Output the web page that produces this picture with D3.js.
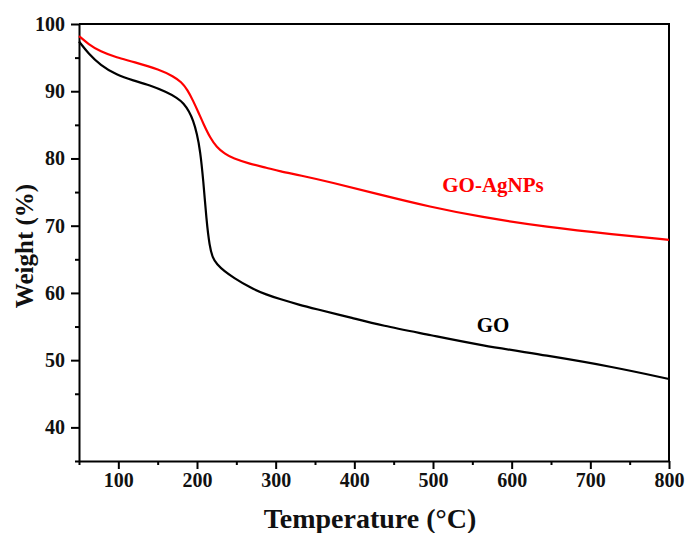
<!DOCTYPE html>
<html>
<head>
<meta charset="utf-8">
<script src="https://cdn.jsdelivr.net/npm/d3@7"></script>
<style>
	body { margin: 0; background: #fff; }
	svg text { font-family: "Liberation Serif", "Times New Roman", serif; font-weight: bold; }
</style>
</head>
<body>
<svg id="chart" width="686" height="533"></svg>
<script>
// values
var goTemp = [50, 62, 77, 98, 119, 140, 161, 175, 183, 190, 195, 200, 204, 208, 212, 216, 220, 225, 235, 246, 267, 289, 305, 331, 348, 400, 433, 498, 560, 645, 729, 800];
var goWeight = [97.4, 95.6, 93.9, 92.4, 91.6, 90.9, 89.9, 89.0, 88.2, 87.0, 85.7, 83.7, 81.2, 76.8, 70.8, 66.9, 65.2, 64.3, 63.2, 62.3, 60.8, 59.7, 59.1, 58.2, 57.7, 56.2, 55.2, 53.7, 52.2, 50.7, 49.0, 47.2];
var agTemp = [50, 62, 77, 98, 119, 153, 170, 180, 188, 195, 202, 208, 217, 225, 235, 246, 267, 289, 305, 331, 369, 433, 496, 560, 645, 729, 800];
var agWeight = [98.2, 97.0, 95.9, 95.0, 94.4, 93.2, 92.2, 91.4, 90.2, 88.6, 86.8, 85.2, 83.0, 81.7, 80.7, 80.0, 79.2, 78.6, 78.1, 77.5, 76.5, 74.6, 72.8, 71.3, 69.8, 68.7, 67.9];
var xTicks = [100, 200, 300, 400, 500, 600, 700, 800];
var xMinor = [50, 150, 250, 350, 450, 550, 650, 750];
var yTicks = [40, 50, 60, 70, 80, 90, 100];
var yMinor = [35, 45, 55, 65, 75, 85, 95];

var svg = d3.select("#chart");
var plotLeft = 79, plotRight = 669, plotTop = 24, plotBottom = 461;

var x = d3.scaleLinear().domain([50, 800]).range([plotLeft, plotRight]);
var y = d3.scaleLinear().domain([35, 100]).range([plotBottom, plotTop]);

var line = d3.line()
	.x(function(d) { return x(d[0]); })
	.y(function(d) { return y(d[1]); })
	.curve(d3.curveBasis);

// frame (top and right, no ticks)
svg.append("path")
	.attr("d", "M" + plotLeft + "," + plotTop + "H" + plotRight + "V" + plotBottom)
	.attr("fill", "none").attr("stroke", "#000").attr("stroke-width", 2);

// minor ticks
svg.append("g").attr("transform", "translate(0," + plotBottom + ")")
	.call(d3.axisBottom(x).tickValues(xMinor).tickSize(4).tickFormat(""))
	.call(function(g) { g.select(".domain").remove(); });
svg.append("g").attr("transform", "translate(" + plotLeft + ",0)")
	.call(d3.axisLeft(y).tickValues(yMinor).tickSize(4).tickFormat(""))
	.call(function(g) { g.select(".domain").remove(); });

// major axes
var xAxis = svg.append("g").attr("transform", "translate(0," + plotBottom + ")")
	.call(d3.axisBottom(x).tickValues(xTicks).tickSize(8).tickSizeOuter(0).tickPadding(4));
var yAxis = svg.append("g").attr("transform", "translate(" + plotLeft + ",0)")
	.call(d3.axisLeft(y).tickValues(yTicks).tickSize(8).tickSizeOuter(0).tickPadding(6));

svg.selectAll(".tick line").attr("stroke-width", 2);
svg.selectAll(".domain").attr("stroke-width", 2);
xAxis.selectAll("text").attr("font-size", 20).attr("fill", "#111");
yAxis.selectAll("text").attr("font-size", 20).attr("fill", "#111");

// curves
svg.append("path")
	.datum(d3.zip(agTemp, agWeight))
	.attr("d", line)
	.attr("fill", "none").attr("stroke", "#ff0000").attr("stroke-width", 2.2);
svg.append("path")
	.datum(d3.zip(goTemp, goWeight))
	.attr("d", line)
	.attr("fill", "none").attr("stroke", "#000").attr("stroke-width", 2.2);

// labels
svg.append("text").attr("x", 493).attr("y", 192).attr("text-anchor", "middle")
	.attr("font-size", 21).attr("fill", "#ff0000").text("GO-AgNPs");
svg.append("text").attr("x", 493).attr("y", 332).attr("text-anchor", "middle")
	.attr("font-size", 21).attr("fill", "#000").text("GO");

svg.append("text").attr("x", 370).attr("y", 528).attr("text-anchor", "middle")
	.attr("font-size", 28).attr("fill", "#111").text("Temperature (°C)");
svg.append("text").attr("transform", "translate(33,246) rotate(-90)").attr("text-anchor", "middle")
	.attr("font-size", 25).attr("fill", "#111").text("Weight (%)");
</script>
</body>
</html>
